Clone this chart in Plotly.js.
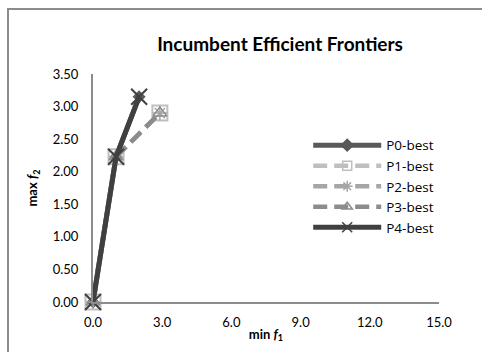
<!DOCTYPE html>
<html><head><meta charset="utf-8">
<script src="https://cdn.plot.ly/plotly-3.0.1.min.js"></script>
<style>
body{margin:0;padding:0;background:#fff;}
#wrap{position:relative;width:482px;height:352px;overflow:hidden;}
#chart{position:absolute;left:0;top:0;width:482px;height:352px;}
#frame{position:absolute;left:7px;top:8px;width:500px;height:400px;border-left:2px solid #8c8c8c;border-top:2px solid #8c8c8c;pointer-events:none;}
</style></head>
<body><div id="wrap"><div id="chart"></div><div id="frame"></div></div>
<script>
const seriesNames = ["P0-best","P1-best","P2-best","P3-best","P4-best"];
const p0x = [0, 1, 2.0];   const p0y = [0, 2.23, 3.15];
const p1x = [0, 1, 2.9];   const p1y = [0, 2.23, 2.9];
const p2x = [0, 1, 2.9];   const p2y = [0, 2.23, 2.9];
const p3x = [0, 1, 2.9];   const p3y = [0, 2.23, 2.9];
const p4x = [0, 1, 2.0];   const p4y = [0, 2.23, 3.15];
const xTicks = [0, 3, 6, 9, 12, 15];
const yTicks = [0, 0.5, 1, 1.5, 2, 2.5, 3, 3.5];

const styles = [
  {color:'#595959', dash:'solid', width:5, symbol:'diamond', msize:10, mline:0, lsize:9},
  {color:'#bfbfbf', dash:'14px,7px', width:4.5, symbol:'square-open', msize:15, mline:2, lsize:9},
  {color:'#a6a6a6', dash:'14px,7px', width:4.5, symbol:'asterisk-open', msize:12, mline:1.5, lsize:9},
  {color:'#8c8c8c', dash:'14px,7px', width:4.5, symbol:'triangle-up-open', msize:12, mline:1.5, lsize:9},
  {color:'#404040', dash:'solid', width:5, symbol:'x-thin-open', msize:16, mline:2, lsize:10}
];
const xs = [p0x,p1x,p2x,p3x,p4x], ys=[p0y,p1y,p2y,p3y,p4y];
const traces = seriesNames.map((n,i)=>({
  type:'scatter', mode:'lines+markers', name:n, x:xs[i], y:ys[i], cliponaxis:false, showlegend:false,
  line:{color:styles[i].color, dash:styles[i].dash, width:styles[i].width},
  marker:{symbol:styles[i].symbol, size:styles[i].msize, color:styles[i].color,
          line:{color:styles[i].color, width:styles[i].mline}}
}));
const legendTraces = seriesNames.map((n,i)=>({
  type:'scatter', mode:'lines+markers', name:n, x:[null], y:[null], showlegend:true,
  line:{color:styles[i].color, dash:styles[i].dash, width:styles[i].width},
  marker:{symbol:styles[i].symbol, size:styles[i].lsize, color:styles[i].color,
          line:{color:styles[i].color, width:1.5}}
}));
const font = "Lato, 'Open Sans', sans-serif";
const layout = {
  width:482, height:352, margin:{l:93, r:43, t:74, b:50},
  paper_bgcolor:'#fff', plot_bgcolor:'#fff',
  font:{family:font, size:13, color:'#000'},
  title:{text:'<b>Incumbent Efficient Frontiers</b>', x:0.581, xanchor:'center', y:0.875, yanchor:'middle',
         font:{family:font, size:19, color:'#000'}},
  showlegend:true,
  legend:{x:0.622, y:0.755, xanchor:'left', yanchor:'top', bgcolor:'rgba(0,0,0,0)',
          font:{family:"'Open Sans', Lato, sans-serif", size:13.5, color:'#000'}, itemwidth:68, tracegroupgap:0},
  xaxis:{range:[0,15], tickvals:xTicks, ticktext:xTicks.map(v=>v.toFixed(1)),
         showgrid:false, zeroline:false, showline:true, linecolor:'#8c8c8c', linewidth:2,
         ticks:'', ticklen:0, ticklabelstandoff:7, tickfont:{size:13}, fixedrange:true,
         title:{text:'<b>min <i>f</i><sub>1</sub></b>', standoff:1, font:{size:13}}},
  yaxis:{range:[0,3.5], tickvals:yTicks, ticktext:yTicks.map(v=>v.toFixed(2)),
         showgrid:false, zeroline:false, showline:true, linecolor:'#8c8c8c', linewidth:2,
         ticks:'', ticklen:0, ticklabelstandoff:10, tickfont:{size:13}, fixedrange:true,
         title:{text:'<b>max <i>f</i><sub>2</sub></b>', standoff:12, font:{size:13}}}
};
Plotly.newPlot('chart', traces.concat(legendTraces), layout, {displayModeBar:false, staticPlot:true});
</script></body></html>
